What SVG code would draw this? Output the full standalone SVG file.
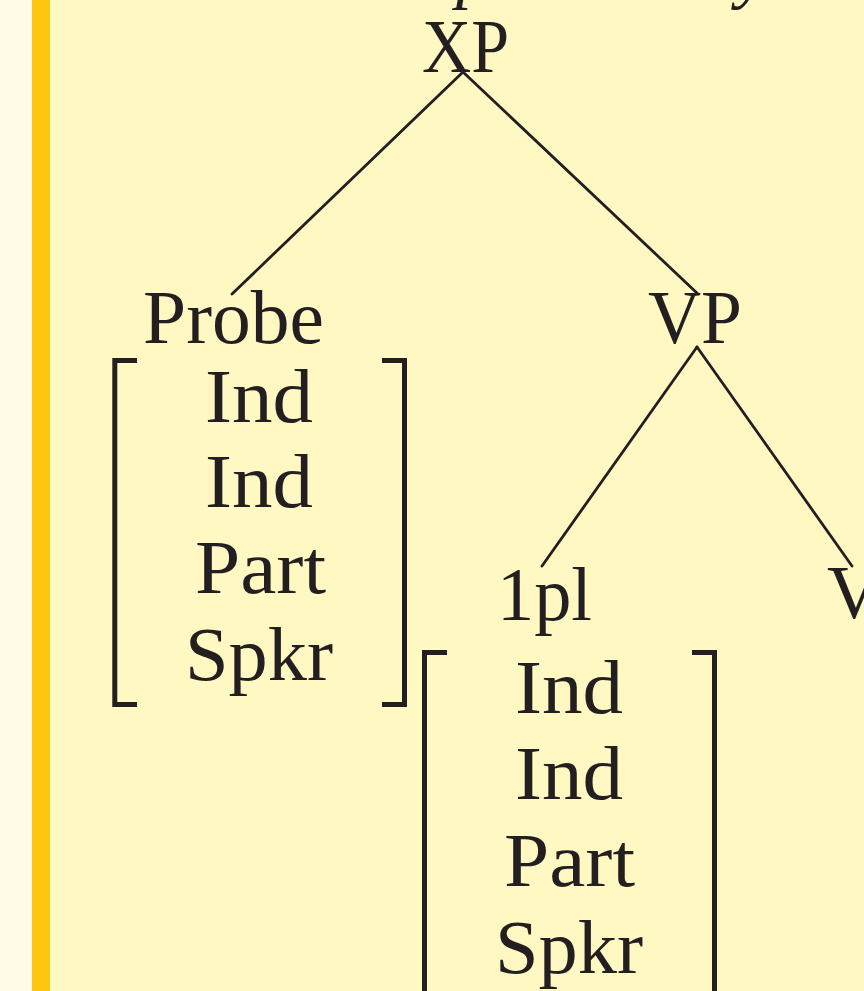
<svg xmlns="http://www.w3.org/2000/svg" width="864" height="991" viewBox="0 0 864 991">
  <style>
    .lbl { font-family: "Liberation Serif", "Times New Roman", serif; font-size: 76px; fill: #231f20; }
    .top { font-family: "Liberation Serif", "Times New Roman", serif; font-size: 70px; font-style: italic; fill: #231f20; }
    .edge { stroke: #231f20; stroke-width: 2.8; fill: none; stroke-linecap: round; }
    .brk { stroke: #231f20; stroke-width: 5; fill: none; stroke-linejoin: miter; stroke-linecap: butt; }
  </style>

  <!-- page background: margin strip, accent bar, panel -->
  <rect x="0" y="0" width="864" height="991" fill="#fff8c3"/>
  <rect x="0" y="0" width="32" height="991" fill="#fffbe7"/>
  <rect x="32" y="0" width="18" height="991" fill="#fec70f"/>

  <!-- tail of the line above -->
  <text class="top" x="456" y="-5">p</text>
  <text class="top" x="737" y="-5">y</text>

  <!-- tree branches -->
  <g id="connectors">
    <line class="edge" x1="463" y1="72" x2="232" y2="294"/>
    <line class="edge" x1="463" y1="72" x2="698" y2="294"/>
    <line class="edge" x1="697" y1="347" x2="542" y2="566"/>
    <line class="edge" x1="697" y1="347" x2="852" y2="566"/>
  </g>

  <g id="node-xp">
    <text class="lbl" x="422" y="72" textLength="87" lengthAdjust="spacingAndGlyphs">XP</text>
  </g>

  <g id="node-probe">
    <text class="lbl" x="143" y="343" textLength="181" lengthAdjust="spacingAndGlyphs">Probe</text>
    <path class="brk" d="M137,360.5 H114.8 V704.5 H137"/>
    <path class="brk" d="M382,360.5 H404.5 V704.5 H382"/>
    <text class="lbl" x="205" y="422" textLength="108" lengthAdjust="spacingAndGlyphs">Ind</text>
    <text class="lbl" x="205" y="507" textLength="108" lengthAdjust="spacingAndGlyphs">Ind</text>
    <text class="lbl" x="195" y="593" textLength="131" lengthAdjust="spacingAndGlyphs">Part</text>
    <text class="lbl" x="185" y="680" textLength="148" lengthAdjust="spacingAndGlyphs">Spkr</text>
  </g>

  <g id="node-vp">
    <text class="lbl" x="648" y="343" textLength="94" lengthAdjust="spacingAndGlyphs">VP</text>
  </g>

  <g id="node-1pl">
    <text class="lbl" x="497" y="620" textLength="95" lengthAdjust="spacingAndGlyphs">1pl</text>
    <path class="brk" d="M447,652.5 H424.5 V1000"/>
    <path class="brk" d="M692,652.5 H714.5 V1000"/>
    <text class="lbl" x="515" y="713" textLength="108" lengthAdjust="spacingAndGlyphs">Ind</text>
    <text class="lbl" x="515" y="799" textLength="108" lengthAdjust="spacingAndGlyphs">Ind</text>
    <text class="lbl" x="504" y="886" textLength="131" lengthAdjust="spacingAndGlyphs">Part</text>
    <text class="lbl" x="495" y="973" textLength="148" lengthAdjust="spacingAndGlyphs">Spkr</text>
  </g>

  <g id="node-v">
    <text class="lbl" x="827" y="618" textLength="54" lengthAdjust="spacingAndGlyphs">V</text>
  </g>
</svg>
